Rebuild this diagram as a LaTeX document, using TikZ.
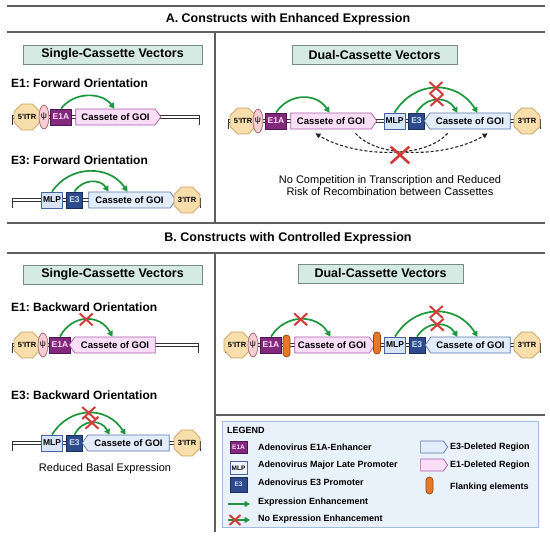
\documentclass[tikz,border=0pt]{standalone}
\usepackage{fontspec}
\setmainfont{Liberation Sans}
\usetikzlibrary{shapes.geometric,shapes.symbols,shapes.misc,arrows.meta,calc}
\definecolor{divc}{RGB}{95,95,95}
\definecolor{hdrf}{RGB}{214,234,228}
\definecolor{hdrd}{RGB}{120,140,135}
\definecolor{itrf}{RGB}{247,222,172}
\definecolor{itrd}{RGB}{200,160,90}
\definecolor{psif}{RGB}{245,205,210}
\definecolor{psid}{RGB}{160,100,110}
\definecolor{e1af}{RGB}{130,40,125}
\definecolor{e1ad}{RGB}{80,20,80}
\definecolor{e1at}{RGB}{250,222,245}
\definecolor{pinkf}{RGB}{250,222,248}
\definecolor{pinkd}{RGB}{170,90,170}
\definecolor{bluef}{RGB}{226,236,250}
\definecolor{blued}{RGB}{90,120,170}
\definecolor{mlpf}{RGB}{215,228,248}
\definecolor{mlpd}{RGB}{70,100,160}
\definecolor{e3f}{RGB}{45,75,140}
\definecolor{e3d}{RGB}{25,45,95}
\definecolor{e3t}{RGB}{205,218,242}
\definecolor{orf}{RGB}{232,120,40}
\definecolor{ord}{RGB}{150,70,20}
\definecolor{grn}{RGB}{30,150,60}
\definecolor{redc}{RGB}{212,60,60}
\definecolor{legf}{RGB}{233,241,251}
\definecolor{legd}{RGB}{160,188,222}
\definecolor{bbc}{RGB}{50,50,50}
\newcommand\fsz[1]{\fontsize{#1}{#1}\selectfont}
\begin{document}
\frenchspacing
\begin{tikzpicture}[x=1pt,y=-1pt,
  divline/.style={draw=divc, line width=1.2pt},
  hdr/.style={draw=hdrd, fill=hdrf, line width=0.8pt, minimum height=19, inner sep=0, font=\bfseries\fsz{12.5}},
  ttl/.style={font=\bfseries\fsz{12.5}, inner sep=0},
  subt/.style={font=\bfseries\fsz{12}, anchor=west, inner sep=0},
  itr/.style={regular polygon, regular polygon sides=8, minimum size=26, inner sep=0, fill=itrf, draw=itrd, line width=0.7pt, font=\bfseries\fsz{7.5}},
  psi/.style={ellipse, minimum width=10, minimum height=24, inner sep=0, fill=psif, draw=psid, line width=0.7pt, font=\fsz{8.5}},
  e1a/.style={rectangle, minimum width=21, minimum height=16, inner sep=0, fill=e1af, draw=e1ad, line width=0.7pt, text=e1at, font=\bfseries\fsz{8.5}},
  mlp/.style={rectangle, minimum width=21, minimum height=16, inner sep=0, fill=mlpf, draw=mlpd, line width=0.7pt, font=\bfseries\fsz{8.5}},
  e3/.style={rectangle, minimum width=16, minimum height=16, inner sep=0, fill=e3f, draw=e3d, line width=0.7pt, text=e3t, font=\bfseries\fsz{8.5}},
  casp/.style={signal, signal pointer angle=110, minimum height=16, inner sep=0, fill=pinkf, draw=pinkd, line width=0.7pt, font=\bfseries\fsz{9.5}},
  casb/.style={signal, signal pointer angle=110, minimum height=16, inner sep=0, fill=bluef, draw=blued, line width=0.7pt, font=\bfseries\fsz{9.5}},
  fwd/.style={signal to=east},
  bwd/.style={signal to=west},
  flank/.style={rectangle, rounded corners=3.5pt, minimum width=7, minimum height=22, inner sep=0, fill=orf, draw=ord, line width=0.7pt},
  gar/.style={draw=grn, line width=1.7pt, -{Triangle[length=5.5pt,width=6pt]}},
  xm/.style={cross out, draw=redc, line width=2pt, minimum width=11, minimum height=10, inner sep=0},
  dar/.style={draw=black!85, line width=1.1pt, dash pattern=on 3pt off 2pt, -{Triangle[length=5pt,width=5pt]}},
  bbl/.style={draw=bbc, line width=1pt},
  legt/.style={anchor=west, inner sep=0, font=\bfseries\fsz{9}},
  plain/.style={font=\fsz{11}, inner sep=0, align=center}
]
\useasboundingbox (0,0) rectangle (550,538);

% dividers
\draw[divline] (7,6) -- (545,6);
\draw[divline] (7,32) -- (545,32);
\draw[divline] (215,32) -- (215,222);
\draw[divline] (7,223) -- (545,223);
\draw[divline] (7,253) -- (545,253);
\draw[divline] (215,253) -- (215,532);
\draw[divline] (215,415) -- (545,415);

% titles
\node[ttl] (tA) at (288,19) {A. Constructs with Enhanced Expression};
\node[ttl] (tB) at (288,238) {B. Constructs with Controlled Expression};
\node[hdr, minimum width=179] (hA1) at (112.5,54.5) {Single-Cassette Vectors};
\node[hdr, minimum width=165] (hA2) at (374.5,55) {Dual-Cassette Vectors};
\node[hdr, minimum width=179] (hB1) at (112.5,274.5) {Single-Cassette Vectors};
\node[hdr, minimum width=165] (hB2) at (380.5,273.5) {Dual-Cassette Vectors};
\node[subt] (s1) at (11,83) {E1: Forward Orientation};
\node[subt] (s2) at (11,160) {E3: Forward Orientation};
\node[subt] (s3) at (11,307) {E1: Backward Orientation};
\node[subt] (s4) at (11,395) {E3: Backward Orientation};

% backbones (double lines with down ticks)
\draw[bbl] (12,125) -- (12,115.5) -- (199,115.5) -- (199,125);
\draw[bbl] (12,118.5) -- (199,118.5);
\draw[bbl] (12,208) -- (12,198.5) -- (200,198.5) -- (200,208);
\draw[bbl] (12,201.5) -- (200,201.5);
\draw[bbl] (228,129) -- (228,119.5) -- (540,119.5) -- (540,129);
\draw[bbl] (228,122.5) -- (540,122.5);
\draw[bbl] (12,353) -- (12,343.5) -- (198,343.5) -- (198,353);
\draw[bbl] (12,346.5) -- (198,346.5);
\draw[bbl] (12,451) -- (12,441.5) -- (200,441.5) -- (200,451);
\draw[bbl] (12,444.5) -- (200,444.5);
\draw[bbl] (225,353) -- (225,343.5) -- (540,343.5) -- (540,353);
\draw[bbl] (225,346.5) -- (540,346.5);

% ---------- Row A1: E1 forward ----------
\node[itr] (a1i) at (27,117) {5'ITR};
\node[psi] (a1p) at (44,117) {ψ};
\node[e1a] (a1e) at (61,117) {E1A};
\node[casp,fwd,minimum width=85] (a1c) at (115.5,117) {Cassete of GOI};
\draw[gar] (a1e.north) .. controls +(13,-17) and +(-13,-17) .. ($(a1c.north west)+(39,0)$);

% ---------- Row A2: E3 forward ----------
\node[mlp] (a2m) at (52,200) {MLP};
\node[e3] (a2e) at (74.5,200) {E3};
\node[casb,fwd,minimum width=87] (a2c) at (129.5,200) {Cassete of GOI};
\node[itr] (a2i) at (187,200) {3'ITR};
\draw[gar] (a2m.north) .. controls +(18,-27) and +(-18,-27) .. ($(a2c.north west)+(39,0)$);
\draw[gar] (a2e.north) .. controls +(8,-13) and +(-8,-13) .. ($(a2c.north west)+(20,0)$);

% ---------- Dual A ----------
\node[itr] (dAi1) at (243,121) {5'ITR};
\node[psi] (dAp) at (258,121) {ψ};
\node[e1a] (dAe1) at (276,121) {E1A};
\node[casp,fwd,minimum width=86] (dAc1) at (331,121) {Cassete of GOI};
\node[mlp] (dAm) at (394.5,121) {MLP};
\node[e3] (dAe3) at (416.5,121) {E3};
\node[casb,bwd,minimum width=86] (dAc2) at (470,121) {Cassete of GOI};
\node[itr] (dAi2) at (527,121) {3'ITR};
\draw[gar] (dAe1.north) .. controls +(13,-20) and +(-13,-20) .. ($(dAc1.north west)+(39,0)$);
\draw[gar] (dAm.north) .. controls +(20,-33) and +(-20,-33) .. ($(dAc2.north west)+(48,0)$) node[xm,pos=0.5] (dAx1) {};
\draw[gar] (dAe3.north) .. controls +(10,-17) and +(-10,-17) .. ($(dAc2.north west)+(28,0)$) node[xm,pos=0.5] (dAx2) {};
\draw[dar] ($(dAc1.south west)+(65,4)$) .. controls +(25,28) and +(-35,22) .. ($(dAc2.south west)+(58,4)$);
\draw[dar] ($(dAc2.south west)+(18,4)$) .. controls +(-25,28) and +(35,22) .. ($(dAc1.south west)+(25,4)$);
\node[xm, minimum width=16, minimum height=14, line width=2.6pt] (dAx3) at (400,155) {};
\node[plain] (dAt) at (390,186) {No Competition in Transcription and Reduced\\[1pt]Risk of Recombination between Cassettes};

% ---------- Row B1: E1 backward ----------
\node[itr] (b1i) at (27,345) {5'ITR};
\node[psi] (b1p) at (43,345) {ψ};
\node[e1a] (b1e) at (60,345) {E1A};
\node[casp,bwd,minimum width=86] (b1c) at (115,345) {Cassete of GOI};
\draw[gar] (b1e.north) .. controls +(12,-23) and +(-12,-23) .. ($(b1c.north west)+(38,0)$) node[xm,pos=0.5] (b1x) {};

% ---------- Row B2: E3 backward ----------
\node[mlp] (b2m) at (52,443) {MLP};
\node[e3] (b2e) at (74.5,443) {E3};
\node[casb,bwd,minimum width=87] (b2c) at (128.5,443) {Cassete of GOI};
\node[itr] (b2i) at (187,443) {3'ITR};
\draw[gar] (b2m.north) .. controls +(18,-29) and +(-18,-29) .. ($(b2c.north west)+(38,0)$) node[xm,pos=0.5] (b2x1) {};
\draw[gar] (b2e.north) .. controls +(8,-16) and +(-8,-16) .. ($(b2c.north west)+(22,0)$) node[xm,pos=0.5] (b2x2) {};
\node[plain] (b2t) at (105,469) {Reduced Basal Expression};

% ---------- Dual B ----------
\node[itr] (dBi1) at (237,345) {5'ITR};
\node[psi] (dBp) at (253,345) {ψ};
\node[e1a] (dBe1) at (271,345) {E1A};
\node[flank] (dBf1) at (286.5,346) {};
\node[casp,fwd,minimum width=80] (dBc1) at (332,345) {Cassete of GOI};
\node[flank] (dBf2) at (377,343) {};
\node[mlp] (dBm) at (395,345) {MLP};
\node[e3] (dBe3) at (417,345) {E3};
\node[casb,bwd,minimum width=85] (dBc2) at (470.5,345) {Cassete of GOI};
\node[itr] (dBi2) at (527,345) {3'ITR};
\draw[gar] (dBe1.north) .. controls +(14,-23) and +(-14,-23) .. ($(dBc1.north west)+(36,0)$) node[xm,pos=0.5] (dBx1) {};
\draw[gar] (dBm.north) .. controls +(20,-33) and +(-20,-33) .. ($(dBc2.north west)+(47,0)$) node[xm,pos=0.5] (dBx2) {};
\draw[gar] (dBe3.north) .. controls +(10,-16) and +(-10,-16) .. ($(dBc2.north west)+(27,0)$) node[xm,pos=0.5] (dBx3) {};

% ---------- Legend ----------
\node[draw=legd, fill=legf, line width=0.8pt, minimum width=316, minimum height=106, inner sep=0] (leg) at (380,474) {};
\node[legt] (lgT) at (227,430) {LEGEND};
\node[e1a, minimum width=17, minimum height=12, font=\bfseries\fsz{6.5}] (lg1) at (238.5,447.5) {E1A};
\node[mlp, minimum width=17, minimum height=13, fill=white!60!mlpf, font=\bfseries\fsz{6.5}] (lg2) at (238.5,468) {MLP};
\node[e3, minimum width=17, minimum height=15, font=\bfseries\fsz{6.5}] (lg3) at (238.5,484.5) {E3};
\coordinate (lg4a) at (228,504); \coordinate (lg4b) at (250,504);
\draw[gar] (lg4a) -- (lg4b);
\coordinate (lg5a) at (228,520); \coordinate (lg5b) at (250,520);
\draw[gar] (lg5a) -- (lg5b);
\node[xm, minimum width=9, minimum height=8] (lg5x) at (235,520) {};
\node[legt] (lt1) at (258,447) {Adenovirus E1A-Enhancer};
\node[legt] (lt2) at (258,465) {Adenovirus Major Late Promoter};
\node[legt] (lt3) at (258,482) {Adenovirus E3 Promoter};
\node[legt] (lt4) at (258,502) {Expression Enhancement};
\node[legt] (lt5) at (258,519) {No Expression Enhancement};
\node[casb,fwd,minimum width=27,minimum height=12] (lg6) at (432,447) {};
\node[casp,fwd,minimum width=27,minimum height=12] (lg7) at (432,465) {};
\node[flank, minimum height=17, minimum width=7] (lg8) at (429.5,485.5) {};
\node[legt] (lt6) at (450,447) {E3-Deleted Region};
\node[legt] (lt7) at (450,465) {E1-Deleted Region};
\node[legt] (lt8) at (450,487) {Flanking elements};
\end{tikzpicture}
\end{document}
